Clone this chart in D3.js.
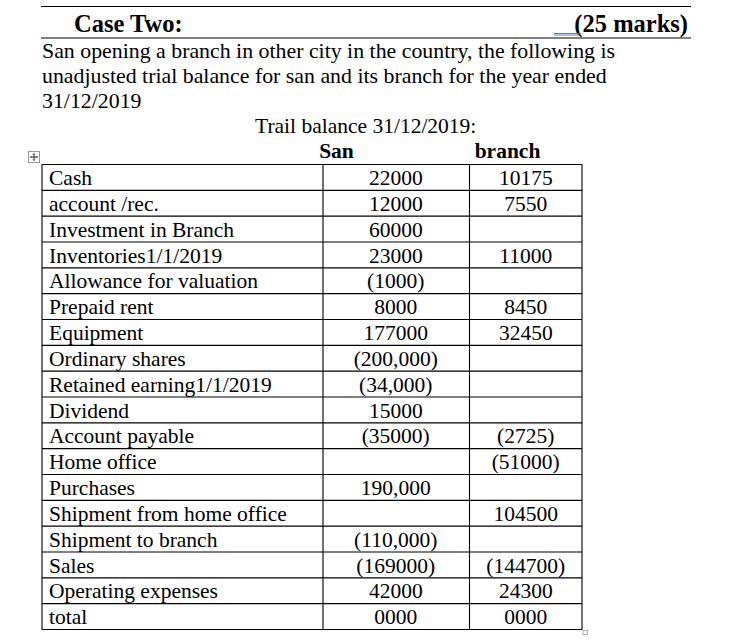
<!DOCTYPE html>
<html>
<head>
<meta charset="utf-8">
<script src="https://cdn.jsdelivr.net/npm/d3@7"></script>
<style>
  html, body { margin: 0; padding: 0; background: #fff; }
  svg { display: block; }
  text { font-family: "Liberation Serif", "Times New Roman", serif; fill: #000; }
</style>
</head>
<body>
<svg id="chart" width="738" height="641"></svg>
<script>
const headingLeft = "Case Two:";
const headingRight = "(25 marks)";
const introLines = [
  "San opening a branch in other city in the country, the following is",
  "unadjusted trial balance for san and its branch for the year ended",
  "31/12/2019"
];
const tableTitle = "Trail balance 31/12/2019:";
const columnHeaders = ["San", "branch"];
const accounts = [
  "Cash", "account /rec.", "Investment in Branch", "Inventories1/1/2019",
  "Allowance for valuation", "Prepaid rent", "Equipment", "Ordinary shares",
  "Retained earning1/1/2019", "Dividend", "Account payable", "Home office",
  "Purchases", "Shipment from home office", "Shipment to branch", "Sales",
  "Operating expenses", "total"
];
const sanValues = [
  "22000", "12000", "60000", "23000", "(1000)", "8000", "177000", "(200,000)",
  "(34,000)", "15000", "(35000)", "", "190,000", "", "(110,000)", "(169000)",
  "42000", "0000"
];
const branchValues = [
  "10175", "7550", "", "11000", "", "8450", "32450", "", "", "", "(2725)",
  "(51000)", "", "104500", "", "(144700)", "24300", "0000"
];

const svg = d3.select("#chart");

// Header rules
svg.append("line").attr("x1", 41).attr("x2", 691).attr("y1", 6.5).attr("y2", 6.5)
  .attr("stroke", "#000").attr("stroke-width", 1);
svg.append("line").attr("x1", 41).attr("x2", 691).attr("y1", 38).attr("y2", 38)
  .attr("stroke", "#000").attr("stroke-width", 1);

svg.append("text").attr("x", 74).attr("y", 31.5)
  .attr("font-size", 24.5).attr("font-weight", "bold").text(headingLeft);
svg.append("text").attr("x", 688).attr("y", 31.5).attr("text-anchor", "end")
  .attr("font-size", 24.5).attr("font-weight", "bold").text(headingRight);
// blue double underline (tracked-change mark)
[33.5, 35].forEach(yy => {
  svg.append("line").attr("x1", 554).attr("x2", 581).attr("y1", yy).attr("y2", yy)
    .attr("stroke", "#3b6fd6").attr("stroke-width", 0.9);
});

// Intro paragraph
const lineY = d3.scaleLinear().domain([0, 1]).range([57.5, 82.5]);
svg.selectAll("text.intro").data(introLines).join("text")
  .attr("class", "intro")
  .attr("x", 42).attr("y", (d, i) => lineY(i))
  .attr("font-size", 21.85).text(d => d);

svg.append("text").attr("x", 255).attr("y", 133)
  .attr("font-size", 21.5).text(tableTitle);

// Table geometry via scales
const tableTop = 164.5, tableBottom = 629.5;
const y = d3.scaleBand().domain(accounts).range([tableTop, tableBottom]).paddingInner(0).paddingOuter(0);
const colEdges = [42, 323, 469.5, 582];
const colX = d3.scaleOrdinal().domain(["label", "San", "branch"]).range([0, 1, 2]);

// Column headers (positioned as in the document's tab stops)
const headerX = d3.scaleOrdinal().domain(columnHeaders).range([336.5, 507.5]);
svg.selectAll("text.colhead").data(columnHeaders).join("text")
  .attr("class", "colhead")
  .attr("x", d => headerX(d)).attr("y", 158)
  .attr("text-anchor", "middle")
  .attr("font-size", 21.5).attr("font-weight", "bold").text(d => d);

// Table move handle
const handle = svg.append("g").attr("transform", "translate(28.5,151.5)");
handle.append("rect").attr("width", 11).attr("height", 11)
  .attr("fill", "#fff").attr("stroke", "#999").attr("stroke-width", 1);
handle.append("path").attr("d", "M5.5,2 V9 M2,5.5 H9")
  .attr("stroke", "#333").attr("stroke-width", 1);
handle.append("path").attr("d", "M4.5,3 L5.5,2 L6.5,3 M4.5,8 L5.5,9 L6.5,8 M3,4.5 L2,5.5 L3,6.5 M8,4.5 L9,5.5 L8,6.5")
  .attr("stroke", "#333").attr("stroke-width", 0.8).attr("fill", "none");

// Grid lines
const grid = svg.append("g").attr("stroke", "#000").attr("stroke-width", 1.1);
const rowLines = accounts.map(a => y(a)).concat([tableBottom]);
grid.selectAll("line.h").data(rowLines).join("line")
  .attr("class", "h")
  .attr("x1", colEdges[0]).attr("x2", colEdges[3])
  .attr("y1", d => d).attr("y2", d => d);
grid.selectAll("line.v").data(colEdges).join("line")
  .attr("class", "v")
  .attr("x1", d => d).attr("x2", d => d)
  .attr("y1", tableTop).attr("y2", tableBottom);

// Cells
const rows = svg.selectAll("g.row").data(accounts).join("g")
  .attr("class", "row")
  .attr("transform", d => `translate(0,${y(d) + 20.5})`);
rows.append("text").attr("x", colEdges[0] + 7)
  .attr("font-size", 21.5).text(d => d);
rows.append("text")
  .attr("x", (colEdges[colX("San")] + colEdges[colX("San") + 1]) / 2 - 0.5)
  .attr("text-anchor", "middle").attr("font-size", 21.5)
  .text((d, i) => sanValues[i]);
rows.append("text")
  .attr("x", (colEdges[colX("branch")] + colEdges[colX("branch") + 1]) / 2)
  .attr("text-anchor", "middle").attr("font-size", 21.5)
  .text((d, i) => branchValues[i]);

// Resize handle
svg.append("rect").attr("x", 583).attr("y", 630.5).attr("width", 4.5).attr("height", 4)
  .attr("fill", "#fff").attr("stroke", "#999").attr("stroke-width", 0.8);
</script>
</body>
</html>
